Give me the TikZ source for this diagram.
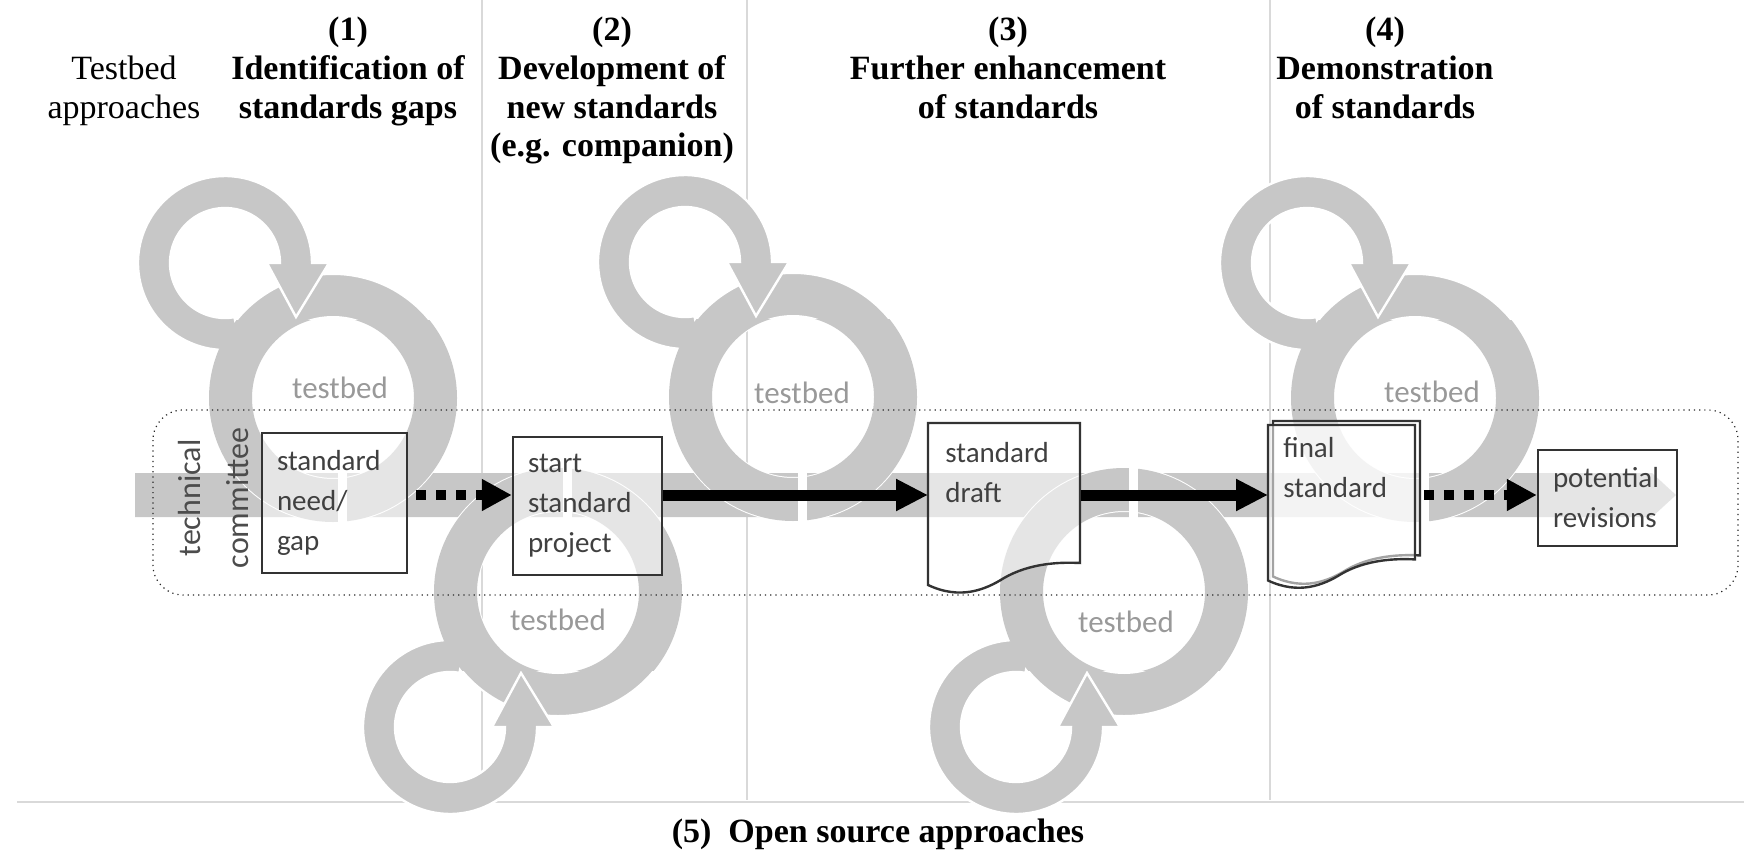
\documentclass[tikz,border=0pt]{standalone}
\usepackage{fontspec}
\setmainfont{Liberation Serif}
\newfontfamily\boxfont{Carlito}
\usetikzlibrary{arrows.meta,calc}

\definecolor{ringgray}{gray}{0.78}
\definecolor{labelgray}{gray}{0.6}
\definecolor{linegray}{gray}{0.85}

\tikzset{
  headtext/.style={font=\fontsize{17pt}{19.3pt}\selectfont\bfseries, align=center, anchor=north, inner sep=0pt},
  sidetext/.style={font=\fontsize{17pt}{19.3pt}\selectfont, align=center, anchor=north, inner sep=0pt},
  stdbox/.style={draw=black!80, line width=1.2pt, fill=white, fill opacity=0.55, text opacity=1,
    text=black!75, font=\boxfont\fontsize{14.5pt}{20pt}\selectfont, align=left, inner xsep=7.5pt, inner ysep=0pt},
  doctext/.style={text=black!75, font=\boxfont\fontsize{14.5pt}{20pt}\selectfont, align=left, anchor=north west},
  docline/.style={draw=black!80, line width=1.2pt, fill=white, fill opacity=0.55},
  tblabel/.style={text=labelgray, font=\boxfont\fontsize{15.5pt}{18pt}\selectfont, inner sep=0pt},
  tclabel/.style={text=black!70, font=\boxfont\fontsize{16pt}{24pt}\selectfont, align=center, rotate=90, inner sep=0pt},
  committee/.style={draw=black!85, line width=0.6pt, dotted, rounded corners=15pt},
  divider/.style={draw=linegray, line width=0.8pt},
  dotarrow/.style={line width=5pt, dash pattern=on 5pt off 5pt, shorten <=4pt, -{Triangle[length=15pt,width=15pt]}},
  solidarrow/.style={line width=5.5pt, -{Triangle[length=16pt,width=15pt]}},
}

% document outline with a wavy lower edge
\newcommand{\docpath}{(0,0) -- (152,0) -- (152,140) .. controls (132,139) and (102,140) .. (76,155)
  .. controls (57,167) and (32,177) .. (0,162) -- cycle}

% ring pair: big ring centre (#1,#2), #3 = 1 above the committee, -1 below
\newcommand{\testbed}[3]{
  \begin{scope}[shift={(#1,#2)}, yscale=#3]
    \fill[ringgray, draw=white, line width=1pt, even odd rule] (0,0) circle[radius=124] (0,0) circle[radius=81];
    \filldraw[fill=ringgray, draw=white, line width=1.2pt]
      ($(-108,-135)+(80:87)$) arc[start angle=80, end angle=360, radius=87]
      -- (-4,-135) -- (-37,-81) -- (-66,-135) -- (-53,-135)
      arc[start angle=360, end angle=80, radius=55] -- cycle;
    \begin{scope}
      \clip (-140,-78) rectangle (140,140);
      \fill[ringgray, even odd rule] (0,0) circle[radius=124] (0,0) circle[radius=81];
    \end{scope}
    % cut where the ring meets the flow
    \fill[white] (5,72) rectangle (14,130);
  \end{scope}
}

\begin{document}
\begin{tikzpicture}[x=0.5pt, y=-0.5pt]
  \useasboundingbox (0,0) rectangle (1744,850);
  \coordinate (bar) at (0,495);

  % phase dividers
  \draw[divider] (482,0) -- (482,800);
  \draw[divider] (747,0) -- (747,800);
  \draw[divider] (1270,0) -- (1270,800);
  \draw[divider, line width=1pt] (17,802) -- (1744,802);

  % flow through the committee
  \fill[ringgray] (135,473) -- (1652,473) -- (1676,495) -- (1652,517) -- (135,517) -- cycle;

  \testbed{333}{398}{1}
  \testbed{793}{397}{1}
  \testbed{1415}{398}{1}
  \testbed{558}{592}{-1}
  \testbed{1124}{592}{-1}

  \draw[committee] (153,410) rectangle (1738,595);

  \node[stdbox, minimum height=70pt, text width=57.5pt] (gap) at (334.5,503) {standard\\need/\\gap};
  \node[stdbox, minimum height=69pt, text width=59.5pt] (project) at (587.5,506) {start\\standard\\project};
  \node[stdbox, minimum height=48pt, text width=54.5pt] (revisions) at (1607.5,498) {potential\\revisions};

  \coordinate (draftnw) at (928,423);
  \filldraw[docline, shift={(draftnw)}] \docpath;
  \node[doctext, text width=59pt, inner xsep=8.5pt, inner ysep=9.5pt, minimum width=76pt] (draft) at (draftnw) {standard\\draft};

  \coordinate (finalnw) at (1268,425);
  \filldraw[docline, shift={($(finalnw)+(5,-4)$)}, xscale=0.967, yscale=0.96] \docpath;
  \filldraw[docline, shift={(finalnw)}, xscale=0.967, yscale=0.96] \docpath;
  \node[doctext, text width=58.5pt, inner xsep=7.5pt, inner ysep=6pt, minimum width=73.5pt] (final) at (finalnw) {final\\standard};

  \draw[dotarrow] (gap.east |- bar) -- (project.west |- bar);
  \draw[solidarrow] (project.east |- bar) -- (draft.west |- bar);
  \draw[solidarrow] (draft.east |- bar) -- (final.west |- bar);
  \draw[dotarrow] (final.east |- bar) -- (revisions.west |- bar);

  \node[tblabel] (tbup1) at (340,388) {testbed};
  \node[tblabel] (tbup3) at (802,393) {testbed};
  \node[tblabel] (tbup4) at (1432,392) {testbed};
  \node[tblabel] (tblow2) at (558,620) {testbed};
  \node[tblabel] (tblow3) at (1126,622) {testbed};
  \node[tclabel] (tc) at (214,498) {technical\\committee};

  % phase headings
  \node[sidetext] (tbhead) at (124,56) {Testbed\\approaches};
  \node[headtext] (ph1) at (348,17) {(1)\\Identification of\\standards gaps};
  \node[headtext] (ph2) at (612,17) {(2)\\Development of\\new standards\\(e.g. companion)};
  \node[headtext] (ph3) at (1008,17) {(3)\\Further enhancement\\of standards};
  \node[headtext] (ph4) at (1385,17) {(4)\\Demonstration\\of standards};
  \node[headtext, anchor=base] (ph5) at (878,842) {(5)\ \ Open source approaches};
\end{tikzpicture}
\end{document}
